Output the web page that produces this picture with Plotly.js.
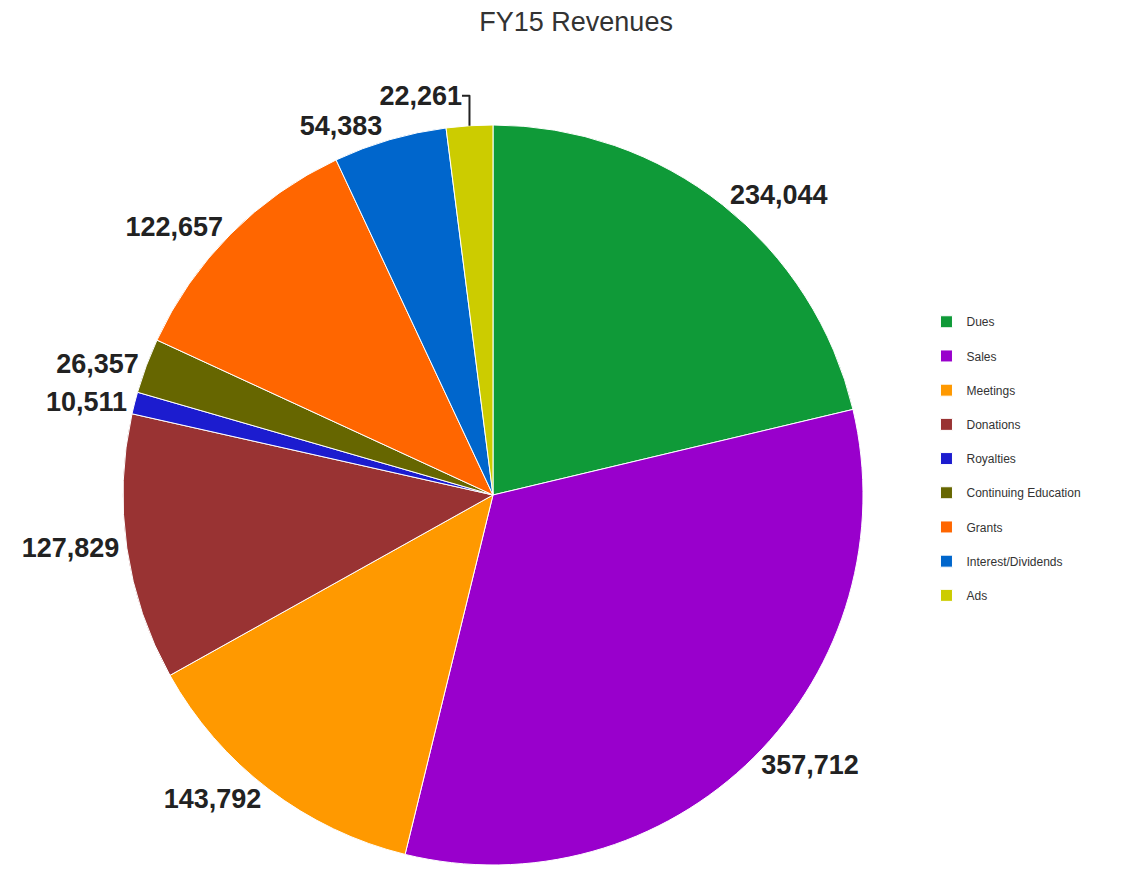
<!DOCTYPE html>
<html>
<head>
<meta charset="utf-8">
<script src="https://cdn.plot.ly/plotly-3.0.1.min.js"></script>
<style>html,body{margin:0;padding:0;background:#fff;}#chart{width:1123px;height:871px;}</style>
</head>
<body>
<div id="chart"></div>
<script>
const categories = ["Dues","Sales","Meetings","Donations","Royalties","Continuing Education","Grants","Interest/Dividends","Ads"];
const revenues = [234044, 357712, 143792, 127829, 10511, 26357, 122657, 54383, 22261];
const sliceColors = ["#0f9a38","#9900cc","#ff9900","#993333","#1c1ccf","#666600","#ff6600","#0066cc","#cccc00"];

// legend entries get an empty second line so they are spaced like the original legend
const legendLabels = categories.map(c => c + "<br> ");

const trace = {
  type: "pie",
  labels: legendLabels,
  values: revenues,
  sort: false,
  direction: "clockwise",
  rotation: 0,
  marker: {colors: sliceColors, line: {color: "#ffffff", width: 1}},
  textposition: "outside",
  texttemplate: "%{value:,}",
  textfont: {family: "Liberation Sans, Arial, sans-serif", size: 27, color: "#222222", weight: "bold"},
  outsidetextfont: {family: "Liberation Sans, Arial, sans-serif", size: 27, color: "#222222", weight: "bold"},
  hoverinfo: "label+value+percent",
  domain: {x: [0.1095, 0.7685], y: [0.0069, 0.8565]},
  automargin: false
};

const layout = {
  width: 1123,
  height: 871,
  margin: {l: 0, r: 0, t: 0, b: 0},
  paper_bgcolor: "#ffffff",
  title: {
    text: "FY15 Revenues",
    x: 0.513, xanchor: "center",
    y: 0.975, yanchor: "middle",
    font: {family: "Liberation Sans, Arial, sans-serif", size: 27, color: "#333333"}
  },
  showlegend: true,
  legend: {
    x: 0.825, xanchor: "left",
    y: 0.647, yanchor: "top",
    valign: "top",
    font: {family: "Liberation Sans, Arial, sans-serif", size: 12, color: "#333333"},
    traceorder: "normal"
  }
};

Plotly.newPlot("chart", [trace], layout, {displayModeBar: false, staticPlot: true});
</script>
</body>
</html>
